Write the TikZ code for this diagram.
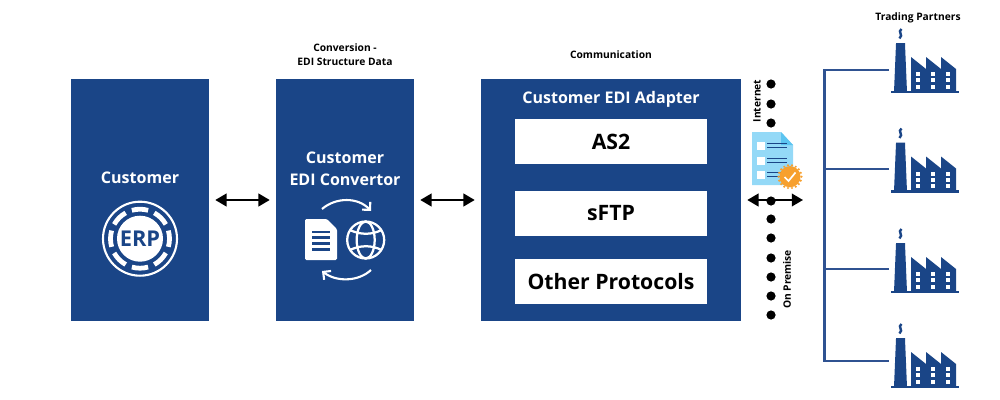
\documentclass[tikz,border=0pt]{standalone}
\usepackage{fontspec}
\setmainfont{Open Sans}
\usepackage{tikz}
\usetikzlibrary{arrows.meta,positioning,calc}
\definecolor{ediblue}{RGB}{26,69,135}
\definecolor{linkblue}{RGB}{47,82,145}
\definecolor{sheetblue}{RGB}{148,217,247}
\definecolor{foldblue}{RGB}{92,196,240}
\definecolor{badgeorange}{RGB}{247,160,46}
\tikzset{
  panel/.style={fill=ediblue, text=white, minimum height=242*0.25mm, inner sep=0pt},
  protocol/.style={fill=white, text=black, minimum width=192*0.25mm, minimum height=45*0.25mm, inner sep=0pt, font=\fontsize{15.1}{17}\selectfont\bfseries},
  paneltext/.style={text=white, align=center, font=\fontsize{11.4}{15.6}\selectfont\bfseries},
  smalltext/.style={text=black, align=center, font=\fontsize{7.3}{10}\selectfont\bfseries},
  dblarrow/.style={{Triangle[length=8pt,width=9pt]}-{Triangle[length=8pt,width=9pt]}, line width=1.4pt, black},
  treeline/.style={linkblue, line width=1.8pt},
  pics/factory/.style={code={
    \fill[ediblue] (0,-2.5) rectangle (68,0);
    \fill[ediblue] (3,-1) -- (5,-49) -- (5,-50) -- (14,-50) -- (14,-49) -- (16,-1) -- cycle;
    \fill[ediblue] (20,-1) -- (20,-36) -- (35,-24) -- (35,-36) -- (50,-24) -- (50,-36) -- (65,-24) -- (65,-1) -- cycle;
    \draw[ediblue, line width=1.7pt] (10.5,-64) .. controls (6,-61) and (13,-58.5) .. (8.5,-54.5);
    \foreach \c in {26.7,41.7,56.7} {
      \foreach \r in {-19,-13,-6.5} {
        \fill[white] (\c-2,\r-2) rectangle (\c+2,\r+2);
      }
    }
  }}
}
\begin{document}
\begin{tikzpicture}[x=0.25mm,y=-0.25mm]
  \useasboundingbox (0,0) rectangle (1000,400);
  % panels
  \node[panel, minimum width=138*0.25mm] (customer) at (140,200) {};
  \node[panel, minimum width=138*0.25mm] (convertor) at (345,200) {};
  \node[panel, minimum width=260*0.25mm] (adapter) at (611,200) {};
  \node[protocol] (as2) at (611,141.5) {AS2};
  \node[protocol] (sftp) at (611,213.5) {sFTP};
  \node[protocol] (other) at (611,281.5) {Other Protocols};
  % labels
  \node[paneltext] (customerlabel) at (140,178) {Customer};
  \node[paneltext] (convertorlabel) at (345,169) {Customer\\EDI Convertor};
  \node[paneltext] (adapterlabel) at (611,99) {Customer EDI Adapter};
  \node[smalltext] (conversionlabel) at (345,55) {Conversion -\\EDI Structure Data};
  \node[smalltext] (communicationlabel) at (611,55) {Communication};
  \node[smalltext] (partnerslabel) at (918,18) {Trading Partners};
  \node[smalltext, rotate=90] (internetlabel) at (757,101) {Internet};
  \node[smalltext, rotate=90] (premiselabel) at (787,279.5) {On Premise};
  % erp badge
  \draw[white, line width=1.5pt] (140,238.7) circle (37);
  \foreach \a in {0,45,...,315} {
    \draw[white, line width=3.4pt] ({140+29.5*cos(\a-16)},{238.7+29.5*sin(\a-16)}) arc[start angle=\a-16, end angle=\a+16, radius=29.5];
  }
  \fill[white] (140,238.7) circle (23);
  \node[text=ediblue, font=\fontsize{15.5}{15}\selectfont\bfseries, inner sep=0pt] (erp) at (140,238.7) {ERP};
  % document and globe
  \fill[white, rounded corners=1pt] (305,219) -- (327,219) -- (337,229) -- (337,260) -- (305,260) -- cycle;
  \foreach \y in {232,237.5,243.5,249.5} {
    \draw[ediblue, line width=1.5pt] (312,\y) -- (330,\y);
  }
  \draw[white, line width=1.6pt] (365.7,240) circle (18.5);
  \draw[white, line width=1.6pt] (365.7,240) ellipse (9 and 18.5);
  \draw[white, line width=1.6pt] (350,230) .. controls (360,235) and (372,235) .. (381.5,230);
  \draw[white, line width=1.6pt] (350,250) .. controls (360,245) and (372,245) .. (381.5,250);
  \draw[white, line width=1.5pt, -{Straight Barb[length=4pt,width=8pt]}] (322,209) .. controls (336,197) and (358,197) .. (371,211);
  \draw[white, line width=1.5pt, -{Straight Barb[length=4pt,width=8pt]}] (371,270) .. controls (358,282) and (336,282) .. (322,271);
  % connectors
  \draw[dblarrow, shorten >=6*0.25mm, shorten <=6*0.25mm] (customer.east) -- (convertor.west);
  \draw[dblarrow, shorten >=6*0.25mm, shorten <=6*0.25mm] (convertor.east) -- (adapter.west);
  \coordinate (gateway) at (803,200);
  \draw[dblarrow, shorten <=6*0.25mm] (adapter.east) -- (gateway);
  % dotted boundary
  \foreach \y in {84,104,123,201,219,238,258,277,296,315} {
    \fill[black] (771,\y) circle (4.6);
  }
  % checklist icon
  \fill[sheetblue] (752,132) -- (781,132) -- (793,145) -- (793,185) -- (752,185) -- cycle;
  \fill[foldblue] (781,132) -- (793,145) -- (781,145) -- cycle;
  \foreach \y in {146,161,175} {
    \fill[white] (757,\y-4) rectangle (765,\y+4);
    \draw[ediblue, line width=0.8pt] (767,\y-2.5) -- (787,\y-2.5);
    \draw[ediblue, line width=0.8pt] (767,\y+1.5) -- (787,\y+1.5);
  }
  \fill[badgeorange] (790,176.7) circle (10.6);
  \foreach \a in {0,20,...,340} {
    \fill[badgeorange] ({790+11.5*cos(\a)},{176.7+11.5*sin(\a)}) circle (1.2);
  }
  \draw[white, line width=1.2pt] (784.5,177) -- (788.5,181) -- (795.5,172.5);
  % trading partners
  \coordinate (trunktop) at (824.5,70);
  \coordinate (trunkb) at (824.5,169);
  \coordinate (trunkc) at (824.5,269);
  \coordinate (trunkbottom) at (824.5,361);
  \coordinate (factorya) at (889,70);
  \coordinate (factoryb) at (889,169);
  \coordinate (factoryc) at (889,269);
  \coordinate (factoryd) at (889,361);
  \draw[treeline, line join=miter] (factorya) -- (trunktop) -- (trunkbottom) -- (factoryd);
  \draw[treeline] (trunkb) -- (factoryb);
  \draw[treeline] (trunkc) -- (factoryc);
  \foreach \y in {93,192.5,293,388} {
    \pic at (891,\y) {factory};
  }
\end{tikzpicture}
\end{document}
